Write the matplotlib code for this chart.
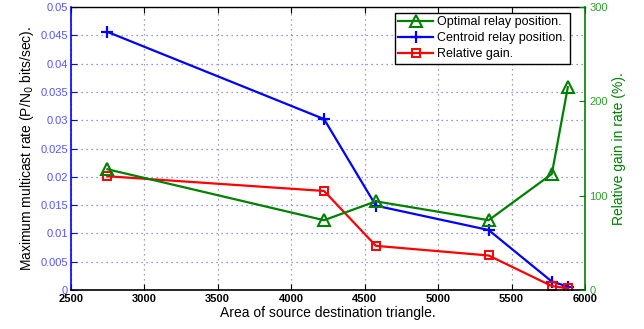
import matplotlib
matplotlib.use("Agg")
import matplotlib.pyplot as plt
from matplotlib.lines import Line2D

plt.rcParams['font.family'] = ['Liberation Sans', 'DejaVu Sans']

area = [2750, 4224, 4577, 5344, 5774, 5883]
centroid_rate = [0.0456, 0.0302, 0.0149, 0.0106, 0.0015, 0.0006]
red_rate = [0.0201, 0.0175, 0.0078, 0.0061, 0.0007, 0.0003]
gain_pct = [128, 74, 94, 74, 123, 215]

xticks = [2500, 3000, 3500, 4000, 4500, 5000, 5500, 6000]
yticks_left = [0, 0.005, 0.01, 0.015, 0.02, 0.025, 0.03, 0.035, 0.04, 0.045, 0.05]
ytick_left_labels = ['0', '0.005', '0.01', '0.015', '0.02', '0.025', '0.03', '0.035', '0.04', '0.045', '0.05']
yticks_right = [0, 100, 200, 300]

BLUE = '#0000ff'
GREEN = '#008000'
RED = '#ff0000'
TBLUE = '#5555ff'
TGREEN = '#2ca02c'

fig = plt.figure(figsize=(6.44, 3.29), dpi=100)
ax = fig.add_axes([0.1098, 0.1185, 0.7986, 0.8602])

ax.plot(area, centroid_rate, color=BLUE, lw=1.6, marker='+', ms=8, mew=1.6)
ax.plot(area, red_rate, color=RED, lw=1.6, marker='s', ms=5.5, mfc='none', mew=1.4)

ax.set_xlim(2500, 6000)
ax.set_ylim(0, 0.05)
ax.set_xticks(xticks)
ax.set_xticklabels([str(v) for v in xticks], fontsize=8, fontweight='bold')
ax.set_yticks(yticks_left)
ax.set_yticklabels(ytick_left_labels, fontsize=8, color=TBLUE)
ax.tick_params(axis='both', direction='in', length=4, width=0.8, top=True, right=True)
ax.tick_params(axis='y', colors=BLUE, labelcolor=TBLUE, pad=2)
ax.tick_params(axis='x', colors='black', pad=3)

ax.yaxis.grid(True, linestyle=(0, (1, 3)), color='#7070ff', lw=0.9)
ax.xaxis.grid(True, linestyle=(0, (1, 3)), color='#888888', lw=0.9)
ax.set_axisbelow(True)

ax.spines['left'].set_color(BLUE)
ax.spines['left'].set_linewidth(1.2)
ax.spines['bottom'].set_linewidth(1.2)
ax.spines['top'].set_linewidth(1.0)
ax.spines['right'].set_visible(False)

ax.set_xlabel('Area of source destination triangle.', fontsize=10, labelpad=1)
ax.set_ylabel('Maximum multicast rate (P/N$_0$ bits/sec).', fontsize=10, labelpad=3)

ax2 = ax.twinx()
ax2.plot(area, gain_pct, color=GREEN, lw=1.6, marker='^', ms=8, mfc='none', mew=1.5)
ax2.set_ylim(0, 300)
ax2.set_yticks(yticks_right)
ax2.set_yticklabels([str(v) for v in yticks_right], fontsize=8, color=TGREEN)
ax2.tick_params(axis='y', direction='in', length=4, colors=GREEN, labelcolor=TGREEN, pad=3)
ax2.spines['right'].set_color(GREEN)
ax2.spines['right'].set_linewidth(1.2)
ax2.spines['left'].set_visible(False)
ax2.spines['top'].set_visible(False)
ax2.spines['bottom'].set_visible(False)
ax2.set_ylabel('Relative gain in rate (%).', fontsize=10, color=GREEN, labelpad=3)

handles = [
    Line2D([], [], color=GREEN, lw=1.6, marker='^', ms=8, mfc='none', mew=1.5),
    Line2D([], [], color=BLUE, lw=1.6, marker='+', ms=8, mew=1.6),
    Line2D([], [], color=RED, lw=1.6, marker='s', ms=5.5, mfc='none', mew=1.4),
]
labels = ['Optimal relay position.', 'Centroid relay position.', 'Relative gain.']
leg = ax2.legend(handles, labels, loc='upper right', bbox_to_anchor=(0.97, 0.98),
                 fontsize=9, frameon=True, fancybox=False, framealpha=1,
                 edgecolor='black', borderpad=0.3, labelspacing=0.3,
                 handlelength=2.8, handletextpad=0.3, borderaxespad=0.0)
leg.get_frame().set_linewidth(1.0)

fig.savefig('out.png', dpi=100)
